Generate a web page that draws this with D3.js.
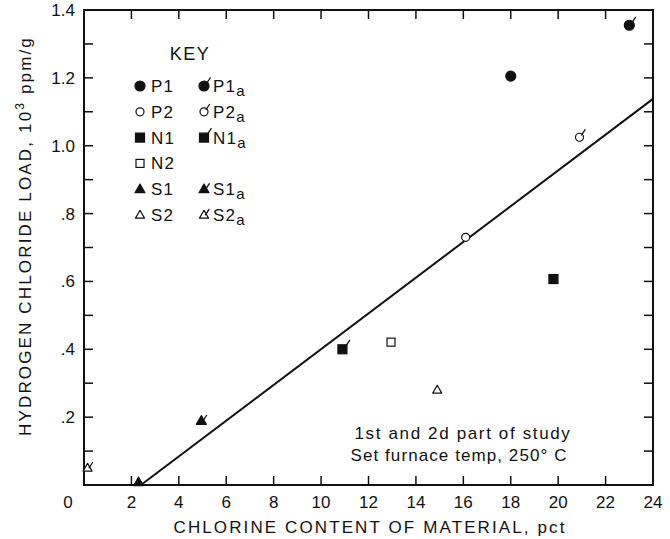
<!DOCTYPE html>
<html>
<head>
<meta charset="utf-8">
<script src="https://cdn.jsdelivr.net/npm/d3@7/dist/d3.min.js"></script>
<style>
  body { margin: 0; background: #fff; }
  svg text { font-family: "Liberation Sans", "DejaVu Sans", sans-serif; fill: #111; }
</style>
</head>
<body>
<div id="stage"></div>
<script>
// points
const pointIds = ['P1', 'P1a', 'P2', 'P2a', 'N1', 'N1a', 'N2', 'S1', 'S1a', 'S2', 'S2a'];
const chlorine = [18.0, 23.0, 16.1, 20.9, 19.8, 10.9, 12.95, 2.3, 4.95, 14.9, 0.15];
const hclLoad = [1.205, 1.355, 0.73, 1.025, 0.607, 0.40, 0.421, 0.008, 0.189, 0.28, 0.05];

// fitted line ends
const fitX = [2.4, 24];
const fitY = [0, 1.138];

const xTicks = [0, 2, 4, 6, 8, 10, 12, 14, 16, 18, 20, 22, 24];
const yTicks = [0.2, 0.4, 0.6, 0.8, 1.0, 1.2, 1.4];
const yTickLabels = ['.2', '.4', '.6', '.8', '1.0', '1.2', '1.4'];

// key layout: left column / right column
const keyLeft = ['P1', 'P2', 'N1', 'N2', 'S1', 'S2'];
const keyRight = ['P1a', 'P2a', 'N1a', null, 'S1a', 'S2a'];

const W = 670, H = 539;
const margin = {top: 10, right: 17, bottom: 54, left: 84};

const svg = d3.select('#stage').append('svg')
  .attr('width', W)
  .attr('height', H);

const x = d3.scaleLinear().domain([0, 24]).range([margin.left, W - margin.right]);
const y = d3.scaleLinear().domain([0, 1.4]).range([H - margin.bottom, margin.top]);

// stretch a text to a given width using letter spacing
function fitText(t, width) {
  const n = t.text().length;
  const w = t.node().getComputedTextLength();
  t.attr('letter-spacing', (width - w) / n);
}

// frame
svg.append('rect')
  .attr('x', x(0)).attr('y', y(1.4))
  .attr('width', x(24) - x(0)).attr('height', y(0) - y(1.4))
  .attr('fill', 'none').attr('stroke', '#111').attr('stroke-width', 2);

// ticks, all pointing inwards
const tickLen = 9;
const ticks = svg.append('g').attr('stroke', '#111').attr('stroke-width', 1.5);
const xt = d3.range(2, 24, 2);
ticks.selectAll('.xb').data(xt).enter().append('line')
  .attr('x1', (d) => x(d)).attr('x2', (d) => x(d))
  .attr('y1', y(0)).attr('y2', y(0) - tickLen);
ticks.selectAll('.xt').data(xt).enter().append('line')
  .attr('x1', (d) => x(d)).attr('x2', (d) => x(d))
  .attr('y1', y(1.4)).attr('y2', y(1.4) + tickLen);
const yt = d3.range(1, 14).map((i) => i / 10);
ticks.selectAll('.yl').data(yt).enter().append('line')
  .attr('x1', x(0)).attr('x2', x(0) + tickLen)
  .attr('y1', (d) => y(d)).attr('y2', (d) => y(d));
ticks.selectAll('.yr').data(yt).enter().append('line')
  .attr('x1', x(24)).attr('x2', x(24) - tickLen)
  .attr('y1', (d) => y(d)).attr('y2', (d) => y(d));

// tick labels
svg.append('g').selectAll('text').data(xTicks).enter().append('text')
  .attr('x', (d) => d === 0 ? x(0) - 16 : x(d))
  .attr('y', y(0) + 23)
  .attr('text-anchor', 'middle')
  .attr('font-size', 17)
  .text((d) => d);

svg.append('g').selectAll('text').data(yTicks).enter().append('text')
  .attr('x', x(0) - 9)
  .attr('y', (d) => y(d) + 6)
  .attr('text-anchor', 'end')
  .attr('font-size', 17)
  .text((d, i) => yTickLabels[i]);

// axis titles
const xTitle = svg.append('text')
  .attr('x', 370)
  .attr('y', H - 6)
  .attr('text-anchor', 'middle')
  .attr('font-size', 17)
  .text('CHLORINE CONTENT OF MATERIAL, pct');
fitText(xTitle, 393);

const yTitle = svg.append('text')
  .attr('transform', 'translate(31, 236) rotate(-90)')
  .attr('text-anchor', 'middle')
  .attr('font-size', 17);
yTitle.append('tspan').text('HYDROGEN CHLORIDE LOAD, 10');
yTitle.append('tspan').attr('dy', -7).attr('font-size', 12).text('3');
yTitle.append('tspan').attr('dy', 7).text(' ppm/g');
fitText(yTitle, 400);

// fit line
svg.append('line')
  .attr('x1', x(fitX[0])).attr('y1', y(fitY[0]))
  .attr('x2', x(fitX[1])).attr('y2', y(fitY[1]))
  .attr('stroke', '#111').attr('stroke-width', 2);

// marker drawing
function drawMarker(g, id, cx, cy) {
  const kind = id[0];
  const open = id[1] === '2';
  const flagged = id.endsWith('a');
  const fill = open ? '#fff' : '#111';
  let top = cy;
  if (kind === 'P') {
    const r = open ? 4 : 5;
    g.append('circle').attr('cx', cx).attr('cy', cy).attr('r', r)
      .attr('fill', fill).attr('stroke', '#111').attr('stroke-width', 1.2);
    top = cy - r * 0.7;
    cx += r * 0.7;
  } else if (kind === 'N') {
    const s = open ? 8 : 9;
    g.append('rect').attr('x', cx - s / 2).attr('y', cy - s / 2)
      .attr('width', s).attr('height', s)
      .attr('fill', fill).attr('stroke', '#111').attr('stroke-width', 1.2);
    top = cy - s / 2;
    cx += s / 2;
  } else {
    const s = open ? 9 : 10;
    const h = s * 0.87;
    g.append('path')
      .attr('d', `M${cx},${cy - h * 0.6}L${cx + s / 2},${cy + h * 0.4}L${cx - s / 2},${cy + h * 0.4}Z`)
      .attr('fill', fill).attr('stroke', '#111').attr('stroke-width', 1.2)
      .attr('stroke-linejoin', 'round');
    top = cy - h * 0.1;
    cx += s * 0.25;
  }
  if (flagged) {
    g.append('line')
      .attr('x1', cx - 1).attr('y1', top + 1)
      .attr('x2', cx + 3).attr('y2', top - 5)
      .attr('stroke', '#111').attr('stroke-width', 1.3);
  }
}

const pts = svg.append('g');
pointIds.forEach((id, i) => {
  drawMarker(pts, id, x(chlorine[i]), y(hclLoad[i]));
});

// key
const key = svg.append('g');
key.append('text').attr('x', 190).attr('y', 60)
  .attr('text-anchor', 'middle').attr('font-size', 18).attr('letter-spacing', 1.5)
  .text('KEY');
const rowY = (i) => 86 + i * 25.8;
function keyLabel(id, tx, ty) {
  const t = key.append('text').attr('x', tx).attr('y', ty + 6)
    .attr('font-size', 17).attr('letter-spacing', 1.2);
  if (id.endsWith('a')) {
    t.append('tspan').text(id.slice(0, -1));
    t.append('tspan').attr('dy', 4).attr('font-size', 15).text('a');
  } else {
    t.text(id);
  }
}
keyLeft.forEach((id, i) => {
  drawMarker(key, id, 140, rowY(i));
  keyLabel(id, 151, rowY(i));
});
keyRight.forEach((id, i) => {
  if (!id) return;
  drawMarker(key, id, 204, rowY(i));
  keyLabel(id, 213, rowY(i));
});

// note
const note = svg.append('g').attr('font-size', 17);
const n1 = note.append('text').attr('x', 463).attr('y', 439)
  .attr('text-anchor', 'middle')
  .text('1st and 2d part of study');
fitText(n1, 217);
const n2 = note.append('text').attr('x', 459).attr('y', 461)
  .attr('text-anchor', 'middle')
  .text('Set furnace temp, 250° C');
fitText(n2, 217);
</script>
</body>
</html>
